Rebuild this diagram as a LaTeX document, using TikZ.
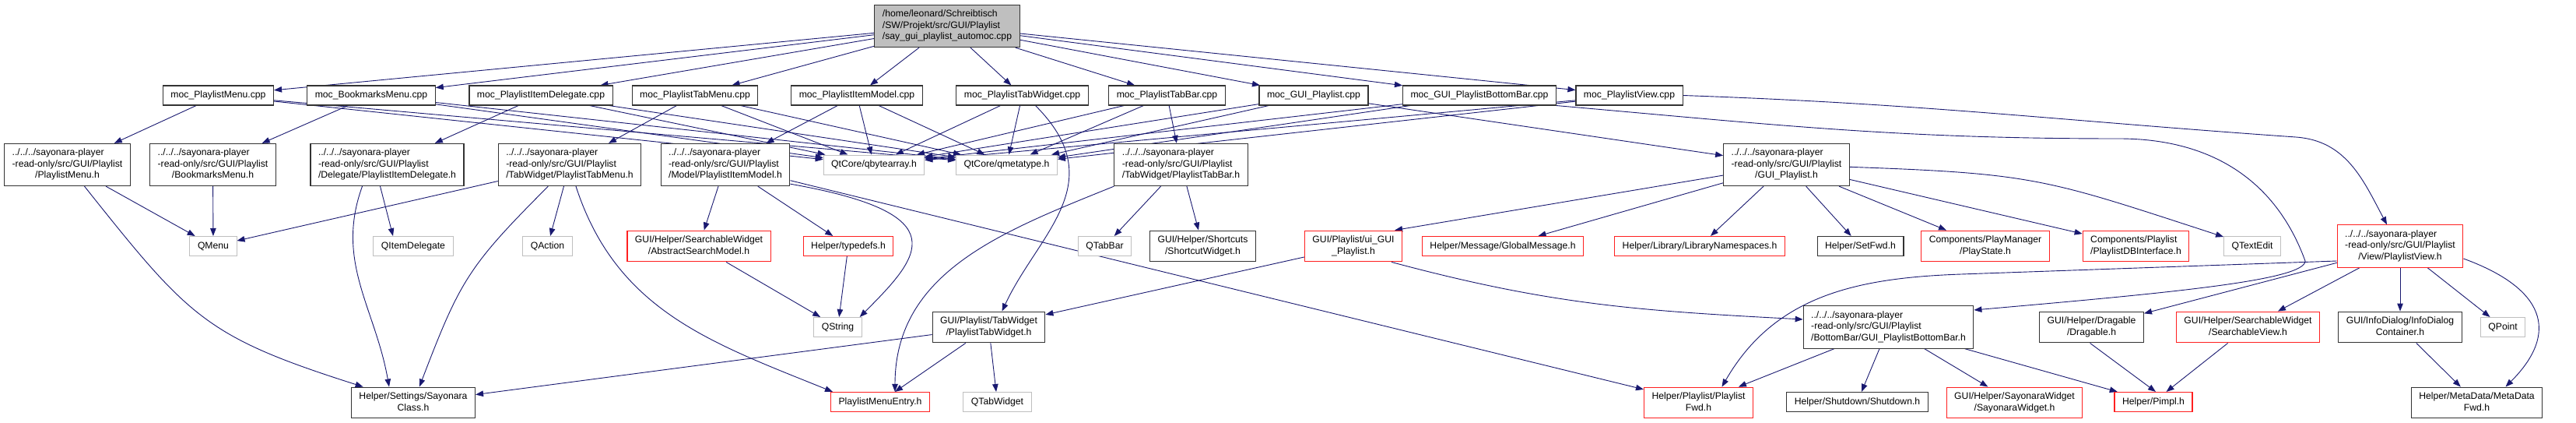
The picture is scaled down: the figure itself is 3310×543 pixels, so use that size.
\documentclass[tikz,border=0pt]{standalone}
\usepackage{fontspec}
\setmainfont{Liberation Sans}
\usetikzlibrary{arrows.meta,backgrounds}
\definecolor{incblue}{HTML}{191970}
\definecolor{sysgray}{HTML}{BFBFBF}
\definecolor{truncred}{HTML}{FF2020}
\tikzset{
  file/.style   ={draw=black!80, line width=1.1pt, fill=white, inner xsep=10pt, inner ysep=5.5pt,
                  minimum height=25pt, font=\fontsize{12.2}{14.4}\selectfont},
  sysfile/.style={file, draw=sysgray, line width=1pt},
  trunc/.style  ={file, draw=truncred},
  topfile/.style={file, fill=sysgray},
  inc/.style    ={-{Triangle[length=10pt,width=7.5pt]}, draw=incblue, line width=0.9pt},
}
\newcommand{\flab}[2]{\begin{tabular}{@{}l@{}}#1\\\multicolumn{1}{@{}c@{}}{#2}\end{tabular}}
\newcommand{\sayo}{../../../sayonara-player\\-read-only/src/GUI/Playlist}

\begin{document}
\begin{tikzpicture}[x=1pt,y=1pt]
\useasboundingbox (0,0) rectangle (3310,-543);
\node[topfile] (root) at (1217,-33.5) {\flab{/home/leonard/Schreibtisch\\/SW/Projekt/src/GUI/Playlist}{/say\_gui\_playlist\_automoc.cpp}};
% moc files
\node[file] (mPM)  at (280.5,-122.5) {moc\_PlaylistMenu.cpp};
\node[file] (mBM)  at (477,-122.5)   {moc\_BookmarksMenu.cpp};
\node[file] (mPID) at (695,-122.5)   {moc\_PlaylistItemDelegate.cpp};
\node[file] (mPTM) at (893,-122.5)   {moc\_PlaylistTabMenu.cpp};
\node[file] (mPIM) at (1101,-122.5)  {moc\_PlaylistItemModel.cpp};
\node[file] (mPTW) at (1313.5,-122.5) {moc\_PlaylistTabWidget.cpp};
\node[file] (mPTB) at (1499.5,-122.5) {moc\_PlaylistTabBar.cpp};
\node[file] (mGP)  at (1688,-122.5)  {moc\_GUI\_Playlist.cpp};
\node[file] (mGPB) at (1901,-122.5)  {moc\_GUI\_PlaylistBottomBar.cpp};
\node[file] (mPV)  at (2093.5,-122.5) {moc\_PlaylistView.cpp};
% second row
\node[file] (hPM)  at (86.5,-211.5)  {\flab{\sayo}{/PlaylistMenu.h}};
\node[file] (hBM)  at (273.5,-211.5) {\flab{\sayo}{/BookmarksMenu.h}};
\node[file] (hPID) at (497.5,-211.5) {\flab{\sayo}{/Delegate/PlaylistItemDelegate.h}};
\node[file] (hPTM) at (732,-211.5)   {\flab{\sayo}{/TabWidget/PlaylistTabMenu.h}};
\node[file] (hPIM) at (932,-211.5)   {\flab{\sayo}{/Model/PlaylistItemModel.h}};
\node[sysfile] (qBA) at (1123,-211.5) {QtCore/qbytearray.h};
\node[sysfile] (qMT) at (1293.5,-211.5) {QtCore/qmetatype.h};
\node[file] (hPTB) at (1517.5,-211.5) {\flab{\sayo}{/TabWidget/PlaylistTabBar.h}};
\node[file] (hGP)  at (2295.5,-211.5) {\flab{\sayo}{/GUI\_Playlist.h}};
% third row
\node[sysfile] (qMenu)    at (274,-316)   {QMenu};
\node[sysfile] (qItemDel) at (531,-316)   {QItemDelegate};
\node[sysfile] (qAction)  at (703.5,-316) {QAction};
\node[trunc] (hASM)       at (898,-316)   {\flab{GUI/Helper/SearchableWidget}{/AbstractSearchModel.h}};
\node[trunc] (hTypedefs)  at (1090,-316)  {Helper/typedefs.h};
\node[sysfile] (qTabBar)  at (1419.5,-316) {QTabBar};
\node[file] (hShortcut)   at (1545.5,-316) {\flab{GUI/Helper/Shortcuts}{/ShortcutWidget.h}};
\node[trunc] (hUiGP)      at (1739,-316)  {\flab{GUI/Playlist/ui\_GUI}{\_Playlist.h}};
\node[trunc] (hGM)        at (1931,-316)  {Helper/Message/GlobalMessage.h};
\node[trunc] (hLibNS)     at (2184,-316)  {Helper/Library/LibraryNamespaces.h};
\node[file] (hSetFwd)     at (2390.5,-316) {Helper/SetFwd.h};
\node[trunc] (hPlayState) at (2551,-316)  {\flab{Components/PlayManager}{/PlayState.h}};
\node[trunc] (hDBI)       at (2744.5,-316) {\flab{Components/Playlist}{/PlaylistDBInterface.h}};
\node[sysfile] (qTextEdit) at (2894,-316) {QTextEdit};
\node[trunc] (hPV)        at (3084,-316)  {\flab{\sayo}{/View/PlaylistView.h}};
% fourth row
\node[sysfile] (qString) at (1076.5,-420) {QString};
\node[file] (hTabWidget) at (1270.5,-420) {\flab{GUI/Playlist/TabWidget}{/PlaylistTabWidget.h}};
\node[file] (hBB)        at (2426.5,-420) {\flab{\sayo}{/BottomBar/GUI\_PlaylistBottomBar.h}};
\node[file] (hDrag)      at (2687.5,-420) {\flab{GUI/Helper/Dragable}{/Dragable.h}};
\node[trunc] (hSView)    at (2888.5,-420) {\flab{GUI/Helper/SearchableWidget}{/SearchableView.h}};
\node[file] (hInfo)      at (3084,-420)   {\flab{GUI/InfoDialog/InfoDialog}{Container.h}};
\node[sysfile] (qPoint)  at (3216,-420)   {QPoint};
% bottom row
\node[file] (hSettings)   at (531,-517)    {\flab{Helper/Settings/Sayonara}{Class.h}};
\node[trunc] (hMenuEntry) at (1131,-516)   {PlaylistMenuEntry.h};
\node[sysfile] (qTabWidget) at (1281.5,-516) {QTabWidget};
\node[trunc] (hPLFwd)     at (2182.5,-517) {\flab{Helper/Playlist/Playlist}{Fwd.h}};
\node[file] (hShutdown)   at (2386.5,-516) {Helper/Shutdown/Shutdown.h};
\node[trunc] (hSayWidget) at (2588.5,-517) {\flab{GUI/Helper/SayonaraWidget}{/SayonaraWidget.h}};
\node[trunc] (hPimpl)     at (2767,-516)   {Helper/Pimpl.h};
\node[file] (hMDFwd)      at (3182.5,-517) {\flab{Helper/MetaData/MetaData}{Fwd.h}};

\coordinate (bbmid)  at (2723,-178);
\coordinate (bbturn) at (2962,-335);
\coordinate (pvbend) at (2950,-176);
\coordinate (pvfwd)  at (2520,-352);

\begin{scope}[on background layer]
  \foreach \m in {mPM,mBM,mPID,mPTM,mPIM,mPTW,mPTB,mGP,mGPB,mPV}{
    \draw[inc] (root) -- (\m);
    \draw[inc] (\m) -- (qBA);
    \draw[inc] (\m) -- (qMT);
  }
  \foreach \a/\b in {mPM/hPM, mBM/hBM, mPID/hPID, mPTM/hPTM, mPIM/hPIM, mPTB/hPTB, mGP/hGP,
      hPM/qMenu, hBM/qMenu, hPTM/qMenu, hPTM/qAction, hPIM/hASM, hPIM/hTypedefs,
      hASM/qString, hTypedefs/qString, hPTB/qTabBar, hPTB/hShortcut,
      hTabWidget/hSettings, hTabWidget/hMenuEntry, hTabWidget/qTabWidget, hUiGP/hTabWidget,
      hGP/hGM, hGP/hLibNS, hGP/hSetFwd, hGP/hPlayState, hGP/hDBI,
      hBB/hPLFwd, hBB/hShutdown, hBB/hSayWidget, hBB/hPimpl, hSView/hPimpl,
      hPV/hDrag, hPV/hSView, hPV/hInfo, hPV/qPoint, hInfo/hMDFwd, hPIM/hPLFwd}
    \draw[inc] (\a) -- (\b);
  \draw[inc] ([xshift=-9pt]hPID.south) -- ([xshift=-26pt]qItemDel.north);
  \draw[inc] ([xshift=-2pt]hDrag.south) -- ([xshift=3pt]hPimpl.north);
  \draw[inc] (hGP) -- ([xshift=-10pt]hUiGP.north east);
  \draw[inc] (hPM) to[out=-51.5,in=162.5,out distance=215pt,in distance=215pt] (hSettings);
  \draw[inc] ([xshift=-32pt]hPID.south) to[out=-110,in=100,out distance=103pt,in distance=103pt] ([xshift=-31pt]hSettings.north);
  \draw[inc] (hPTM) to[out=-135,in=69,out distance=146pt,in distance=146pt] (hSettings);
  \draw[inc] ([xshift=8pt]hPTM.south) to[out=-72,in=158,out distance=168pt,in distance=168pt] ([xshift=-61pt]hMenuEntry.north);
  \draw[inc] ([yshift=3pt]hPIM.south east) to[out=-10,in=45,out distance=220pt,in distance=110pt] ([xshift=-3pt]qString.north east);
  \draw[inc] ([xshift=17pt]mPTW.south) to[out=-45,in=65,out distance=140pt,in distance=110pt] ([xshift=17pt]hTabWidget.north);
  \draw[inc] (hPTB.south west) to[out=-158,in=90,out distance=154pt,in distance=154pt] ([xshift=19pt]hMenuEntry.north);
  \draw[inc] (hGP) to[out=-2,in=162,out distance=240pt,in distance=240pt] (qTextEdit);
  \draw[inc] ([xshift=49pt]hUiGP.south) to[out=-15,in=177,out distance=212pt,in distance=212pt] ([yshift=10pt]hBB.west);
  \draw[inc] (mGPB.south east) to[out=-5,in=180,out distance=287pt,in distance=287pt] (bbmid)
     to[out=0,in=110,out distance=114pt,in distance=114pt] (bbturn)
     to[out=-90,in=5,out distance=25pt,in distance=250pt] ([yshift=22pt]hBB.east);
  \draw[inc] (mPV.east) to[out=-2,in=176,out distance=315pt,in distance=315pt] (pvbend)
     to[out=-4,in=118,out distance=65pt,in distance=65pt] ([xshift=-17pt]hPV.north);
  \draw[inc] ([yshift=-19pt]hPV.west) to[out=182,in=2,out distance=190pt,in distance=190pt] (pvfwd)
     to[out=182,in=60,out distance=135pt,in distance=135pt] ([xshift=30pt]hPLFwd.north);
  \draw[inc] ([yshift=-16pt]hPV.east) to[out=-20,in=45,out distance=110pt,in distance=100pt] ([xshift=37pt]hMDFwd.north);
\end{scope}
\end{tikzpicture}
\end{document}
